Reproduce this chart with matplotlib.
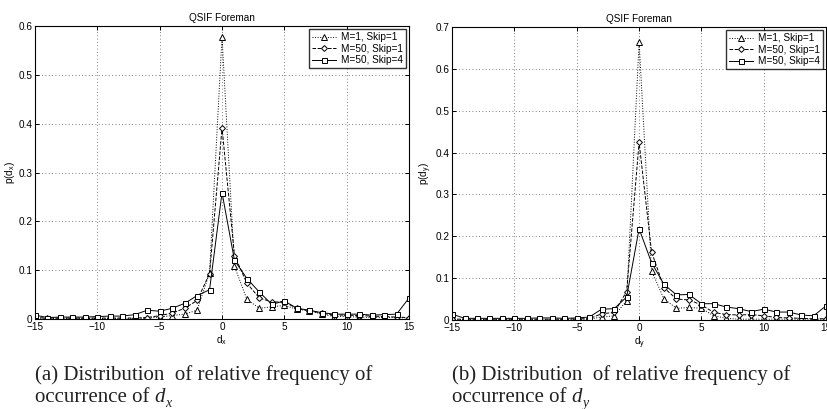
import numpy as np
import matplotlib
matplotlib.use("Agg")
import matplotlib.pyplot as plt

# Motion vector component values
d = np.arange(-15, 16)

# Relative frequency of d_x
px_m1_s1 = [0.002, 0.001, 0.001, 0.001, 0.001, 0.001, 0.001, 0.001, 0.001, 0.002,
            0.004, 0.007, 0.010, 0.018, 0.095, 0.578, 0.108, 0.040, 0.022, 0.025,
            0.028, 0.020, 0.017, 0.010, 0.005, 0.005, 0.004, 0.003, 0.003, 0.003, 0.002]
px_m50_s1 = [0.003, 0.002, 0.002, 0.002, 0.002, 0.002, 0.002, 0.002, 0.002, 0.003,
             0.007, 0.012, 0.022, 0.038, 0.093, 0.392, 0.130, 0.073, 0.043, 0.035,
             0.035, 0.022, 0.017, 0.012, 0.008, 0.008, 0.007, 0.006, 0.005, 0.004, 0.003]
px_m50_s4 = [0.008, 0.003, 0.004, 0.004, 0.004, 0.005, 0.006, 0.006, 0.009, 0.018,
             0.016, 0.022, 0.032, 0.048, 0.060, 0.259, 0.120, 0.083, 0.055, 0.030,
             0.037, 0.022, 0.018, 0.013, 0.010, 0.010, 0.010, 0.008, 0.009, 0.010, 0.043]

# Relative frequency of d_y
py_m1_s1 = [0.002, 0.001, 0.001, 0.001, 0.001, 0.001, 0.001, 0.001, 0.001, 0.001,
            0.001, 0.002, 0.007, 0.010, 0.046, 0.665, 0.118, 0.050, 0.028, 0.030,
            0.028, 0.010, 0.004, 0.002, 0.002, 0.002, 0.002, 0.002, 0.002, 0.002, 0.002]
py_m50_s1 = [0.002, 0.002, 0.002, 0.002, 0.002, 0.002, 0.002, 0.002, 0.002, 0.002,
             0.003, 0.003, 0.015, 0.018, 0.068, 0.425, 0.163, 0.077, 0.050, 0.048,
             0.036, 0.018, 0.013, 0.012, 0.013, 0.010, 0.006, 0.005, 0.004, 0.003, 0.003]
py_m50_s4 = [0.014, 0.004, 0.004, 0.004, 0.004, 0.004, 0.004, 0.005, 0.005, 0.004,
             0.005, 0.007, 0.026, 0.027, 0.055, 0.218, 0.137, 0.085, 0.060, 0.061,
             0.039, 0.039, 0.031, 0.027, 0.020, 0.026, 0.019, 0.019, 0.012, 0.010, 0.034]

labels = ["M=1, Skip=1", "M=50, Skip=1", "M=50, Skip=4"]
styles = [(":", "^"), ("--", "D"), ("-", "s")]
msizes = [4.5, 3.0, 3.6]

plt.rcParams["font.family"] = ["Liberation Sans", "DejaVu Sans"]
plt.rcParams["mathtext.fontset"] = "custom"
plt.rcParams["mathtext.rm"] = "Liberation Sans"
plt.rcParams["mathtext.it"] = "Liberation Sans"

FS = 7.2
CAP = 15

fig = plt.figure(figsize=(8.28, 4.09), dpi=100)


def panel(rect, series, ymax, ylab, xlab, tag, sub):
    ax = fig.add_axes(rect)
    for vals, lab, (ls, mk), ms in zip(series, labels, styles, msizes):
        ax.plot(d, vals, linestyle=ls, marker=mk, color="black", lw=0.7,
                markersize=ms, markerfacecolor="white", markeredgecolor="black",
                markeredgewidth=0.7, label=lab)
    ax.set_xlim(-15, 15)
    ax.set_ylim(0, ymax)
    ax.set_xticks([-15, -10, -5, 0, 5, 10, 15])
    ax.set_xticklabels(["\u221215", "\u221210", "\u22125", "0", "5", "10", "15"])
    yt = np.round(np.arange(0, ymax + 1e-9, 0.1), 1)
    ax.set_yticks(yt)
    ax.set_yticklabels(["0"] + [f"{v:.1f}" for v in yt[1:]])
    ax.tick_params(direction="in", length=3, width=0.7, labelsize=FS, pad=2,
                   top=True, right=True)
    ax.grid(True, linestyle=(0, (1, 3)), color="#555555", lw=0.6)
    for s in ax.spines.values():
        s.set_linewidth(0.8)
    ax.set_title("QSIF Foreman", fontsize=FS, pad=4)
    ax.set_ylabel(ylab, fontsize=FS, labelpad=1)
    ax.set_xlabel(xlab, fontsize=FS, labelpad=1)
    leg = ax.legend(loc="upper right", fontsize=FS, frameon=True, fancybox=False,
                    borderpad=0.3, labelspacing=0.15, handlelength=2.4,
                    handletextpad=0.5, borderaxespad=0.3)
    leg.get_frame().set_edgecolor("black")
    leg.get_frame().set_linewidth(1.0)

    # Caption below the panel
    x0 = rect[0]
    fig.text(x0, 0.072, f"({tag}) Distribution  of relative frequency of",
             family="Liberation Serif", fontsize=CAP, ha="left", va="baseline",
             color="#222222")
    t = fig.text(x0, 0.016, "occurrence of ", family="Liberation Serif",
                 fontsize=CAP, ha="left", va="baseline", color="#222222")
    fig.canvas.draw()
    inv = fig.transFigure.inverted()
    xe = inv.transform((t.get_window_extent().x1, 0))[0]
    td = fig.text(xe, 0.016, "d", family="Liberation Serif", style="italic",
                  fontsize=CAP, ha="left", va="baseline", color="#222222")
    fig.canvas.draw()
    xd = inv.transform((td.get_window_extent().x1, 0))[0]
    fig.text(xd, 0.004, sub, family="Liberation Serif", style="italic",
             fontsize=10, ha="left", va="baseline", color="#222222")
    return ax


panel([0.0423, 0.220, 0.4517, 0.716], [px_m1_s1, px_m50_s1, px_m50_s4], 0.6,
      r"p(d$_x$)", r"d$_x$", "a", "x")
panel([0.546, 0.2176, 0.4517, 0.716], [py_m1_s1, py_m50_s1, py_m50_s4], 0.7,
      r"p(d$_y$)", r"d$_y$", "b", "y")

fig.savefig("out.png", dpi=100)
